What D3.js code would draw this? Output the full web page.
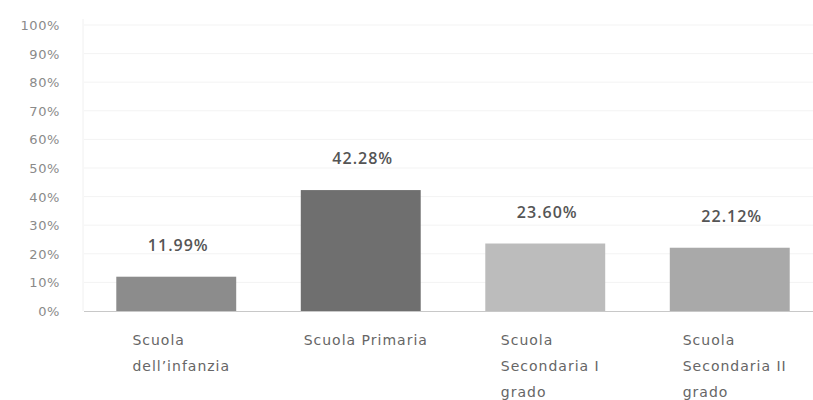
<!DOCTYPE html>
<html>
<head>
<meta charset="utf-8">
<script src="https://cdn.jsdelivr.net/npm/d3@7"></script>
<style>
  html, body { margin: 0; padding: 0; background: #fff; }
  svg { display: block; }
  text { font-family: "DejaVu Sans", "Open Sans", sans-serif; }
</style>
</head>
<body>
<svg id="chart" width="813" height="400"></svg>
<script>
// School levels and their share (%)
const categories = ["Scuola dell’infanzia", "Scuola Primaria", "Scuola Secondaria I grado", "Scuola Secondaria II grado"];
const values = [11.99, 42.28, 23.60, 22.12];
const barColors = ["#8c8c8c", "#6f6f6f", "#bcbcbc", "#a9a9a9"];
const yTicks = [0, 10, 20, 30, 40, 50, 60, 70, 80, 90, 100];

const svg = d3.select("#chart");
const W = 813, H = 400;
const plot = { left: 84, right: 822, top: 25, bottom: 311 };

const x = d3.scaleBand()
  .domain(categories)
  .range([plot.left, plot.right])
  .paddingInner(0.35)
  .paddingOuter(0.175);

const y = d3.scaleLinear()
  .domain([0, 100])
  .range([plot.bottom, plot.top]);

// Horizontal gridlines
svg.append("g")
  .selectAll("line")
  .data(yTicks.filter(d => d > 0))
  .join("line")
  .attr("x1", plot.left).attr("x2", W)
  .attr("y1", d => y(d)).attr("y2", d => y(d))
  .attr("stroke", "#f3f3f3")
  .attr("stroke-width", 1);

// Faint vertical axis line
svg.append("line")
  .attr("x1", plot.left - 1).attr("x2", plot.left - 1)
  .attr("y1", plot.top - 6).attr("y2", plot.bottom)
  .attr("stroke", "#f0f0f0");

// Y axis labels
const yAxis = d3.axisLeft(y)
  .tickValues(yTicks)
  .tickFormat(d => d + "%")
  .tickSize(0)
  .tickPadding(0);

const gy = svg.append("g")
  .attr("transform", `translate(${plot.left - 24},0)`)
  .call(yAxis);
gy.select(".domain").remove();
gy.selectAll("text")
  .attr("fill", "#8a8a8a")
  .style("font-family", "'DejaVu Sans', sans-serif")
  .style("font-size", "13px")
  .style("letter-spacing", "0.6px")
  .attr("dy", "0.35em");

// Bars
svg.append("g")
  .selectAll("rect")
  .data(categories)
  .join("rect")
  .attr("x", d => x(d))
  .attr("width", x.bandwidth())
  .attr("y", (d, i) => y(values[i]))
  .attr("height", (d, i) => y(0) - y(values[i]))
  .attr("fill", (d, i) => barColors[i]);

// Baseline
svg.append("line")
  .attr("x1", plot.left).attr("x2", W)
  .attr("y1", plot.bottom + 0.5).attr("y2", plot.bottom + 0.5)
  .attr("stroke", "#c8c8c8")
  .attr("stroke-width", 1);

// Value labels above bars
svg.append("g")
  .selectAll("text")
  .data(categories)
  .join("text")
  .attr("x", d => x(d) + x.bandwidth() / 2 + 2)
  .attr("y", (d, i) => y(values[i]) - 26)
  .attr("text-anchor", "middle")
  .attr("fill", "#555")
  .style("font-family", "'Open Sans', sans-serif")
  .style("font-size", "16px")
  .style("font-weight", "600")
  .style("letter-spacing", "1px")
  .text((d, i) => values[i].toFixed(2) + "%");

// Category labels, word-wrapped and left-aligned within a centred block
const wrapWidth = 136;
const lineHeight = 26;
const labelG = svg.append("g");
categories.forEach(cat => {
  const t = labelG.append("text")
    .attr("fill", "#666")
    .style("font-size", "14px")
    .style("letter-spacing", "1px");
  const words = cat.split(" ");
  let lines = [];
  let current = [];
  const probe = t.append("tspan");
  words.forEach(w => {
    const trial = current.concat(w).join(" ");
    probe.text(trial);
    if (probe.node().getComputedTextLength() > wrapWidth && current.length) {
      lines.push(current.join(" "));
      current = [w];
    } else {
      current.push(w);
    }
  });
  lines.push(current.join(" "));
  probe.remove();
  const spans = lines.map((l, i) => t.append("tspan")
    .attr("y", plot.bottom + 34 + i * lineHeight)
    .text(l));
  const maxW = d3.max(spans, s => s.node().getComputedTextLength());
  const left = x(cat) + x.bandwidth() / 2 + 5 - maxW / 2;
  spans.forEach(s => s.attr("x", left));
});
</script>
</body>
</html>
